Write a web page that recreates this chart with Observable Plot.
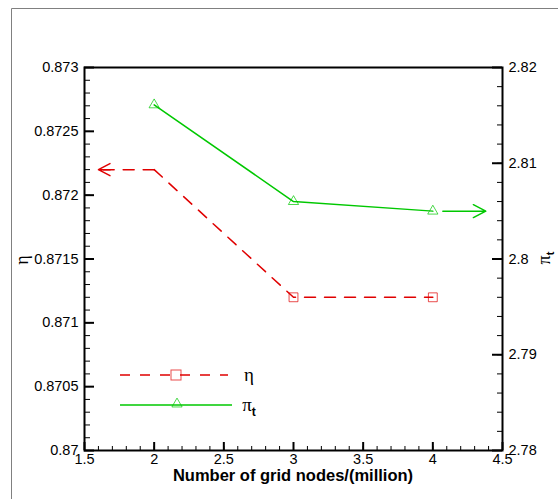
<!DOCTYPE html>
<html><head><meta charset="utf-8">
<script src="https://cdn.jsdelivr.net/npm/d3@7"></script>
<script src="https://cdn.jsdelivr.net/npm/@observablehq/plot@0.6"></script>
<style>
body{margin:0;background:#fff;}
#chart{position:relative;width:558px;height:499px;}
</style>
</head><body><div id="chart"></div>
<script>
// ---- data ----
const nodes = [2, 3, 4];                 // grid nodes (million)
const eta = [0.8722, 0.8712, 0.8712];    // η (left axis)
const piT = [2.8161, 2.8060, 2.8050];    // π_t (right axis)
const etaMarkerNodes = [3, 4];           // nodes where η markers are shown
const etaArrowTo = 1.6;                  // η arrow points to left axis
const piArrowTo = 4.38;                  // π_t arrow points to right axis

const xTicks = [1.5, 2, 2.5, 3, 3.5, 4, 4.5];
const xTickLabels = ["1.5", "2", "2.5", "3", "3.5", "4", "4.5"];
const etaTicks = [0.87, 0.8705, 0.871, 0.8715, 0.872, 0.8725, 0.873];
const etaTickLabels = ["0.87", "0.8705", "0.871", "0.8715", "0.872", "0.8725", "0.873"];
const piTicks = [2.78, 2.79, 2.8, 2.81, 2.82];
const piTickLabels = ["2.78", "2.79", "2.8", "2.81", "2.82"];
const etaDomain = [0.87, 0.873];
const piDomain = [2.78, 2.82];

// ---- derived ----
const W = 558, H = 499, mL = 84, mR = 56, mT = 67, mB = 49;
const iw = W - mL - mR, ih = H - mT - mB;
const red = "#e00000", green = "#00c800";
const piToEta = p => etaDomain[0] + (p - piDomain[0]) / (piDomain[1] - piDomain[0]) * (etaDomain[1] - etaDomain[0]);
const xMinor = d3.range(15, 46).map(i => i / 10);
const etaMinor = d3.range(0, 31).map(i => etaDomain[0] + i * 0.0001);
const piMinorY = d3.range(0, 21).map(i => piToEta(piDomain[0] + i * 0.002));
const piTicksY = piTicks.map(piToEta);

const etaRows = nodes.map((x, i) => ({x, y: eta[i]}));
const piRows = nodes.map((x, i) => ({x, y: piToEta(piT[i])}));
const etaMarkers = etaRows.filter(d => etaMarkerNodes.includes(d.x));
const etaExt = [{x: nodes[0], y: eta[0]}, {x: etaArrowTo, y: eta[0]}];
const etaHead = [{x1: nodes[0], x2: etaArrowTo, y: eta[0]}];
const piHead = [{x1: nodes[2], x2: piArrowTo, y: piToEta(piT[2])}];

const fmt = (ticks, labels) => d => { const i = ticks.indexOf(d); return i >= 0 ? labels[i] : ""; };
const id = d => d;

const plot = Plot.plot({
  width: W, height: H,
  marginLeft: mL, marginRight: mR, marginTop: mT, marginBottom: mB,
  style: {fontFamily: "'Liberation Sans', Arial, sans-serif", fontSize: "14.5px", color: "#000", background: "transparent", overflow: "visible"},
  x: {domain: [1.5, 4.5]},
  y: {domain: etaDomain},
  marks: [
    // inward ticks
    Plot.ruleX(xMinor, {x: id, insetTop: ih - 4, stroke: "#000", strokeWidth: 1}),
    Plot.ruleX(xTicks, {x: id, insetTop: ih - 8, stroke: "#000", strokeWidth: 2}),
    Plot.ruleY(etaMinor, {y: id, insetRight: iw - 6, stroke: "#000", strokeWidth: 1}),
    Plot.ruleY(etaTicks, {y: id, insetRight: iw - 10, stroke: "#000", strokeWidth: 2}),
    Plot.ruleY(piMinorY, {y: id, insetLeft: iw - 5, stroke: "#000", strokeWidth: 1}),
    Plot.ruleY(piTicksY, {y: id, insetLeft: iw - 10, stroke: "#000", strokeWidth: 2}),
    // tick labels
    Plot.axisX(xTicks, {anchor: "bottom", tickSize: 0, tickPadding: 3, tickFormat: fmt(xTicks, xTickLabels), label: null}),
    Plot.axisY(etaTicks, {anchor: "left", tickSize: 0, tickPadding: 6, tickFormat: fmt(etaTicks, etaTickLabels), label: null}),
    Plot.axisY(piTicksY, {anchor: "right", tickSize: 0, tickPadding: 6, tickFormat: fmt(piTicksY, piTickLabels), label: null}),
    Plot.frame({strokeWidth: 2}),
    // η
    Plot.line(etaRows, {x: "x", y: "y", stroke: red, strokeWidth: 1.5, strokeDasharray: "11,9"}),
    Plot.line(etaExt, {x: "x", y: "y", stroke: red, strokeWidth: 1.5, strokeDasharray: "11,9"}),
    Plot.arrow(etaHead, {x1: "x1", x2: "x2", y1: "y", y2: "y", stroke: red, strokeWidth: 1.5, headLength: 13, headAngle: 55, insetStart: 44}),
    Plot.dot(etaMarkers, {x: "x", y: "y", symbol: "square", r: 5, stroke: red, fill: "none", strokeWidth: 1, strokeOpacity: 0.7}),
    // π_t
    Plot.line(piRows, {x: "x", y: "y", stroke: green, strokeWidth: 1.5}),
    Plot.arrow(piHead, {x1: "x1", x2: "x2", y1: "y", y2: "y", stroke: green, strokeWidth: 1.5, headLength: 14, headAngle: 55, insetStart: 10}),
    Plot.dot(piRows, {x: "x", y: "y", symbol: "triangle", r: 3.8, stroke: green, fill: "none", strokeWidth: 1, strokeOpacity: 0.7})
  ]
});
document.getElementById("chart").appendChild(plot);

// ---- decorations: border, titles, legend ----
const svg = d3.select(plot);
svg.append("line").attr("x1", 11.5).attr("x2", W).attr("y1", 8.5).attr("y2", 8.5).attr("stroke", "#808080");
svg.append("line").attr("x1", 11.5).attr("x2", 11.5).attr("y1", 8.5).attr("y2", H).attr("stroke", "#808080");

svg.append("text").attr("x", 293).attr("y", 481).attr("text-anchor", "middle")
  .attr("font-family", "'Liberation Sans', Arial, sans-serif").attr("font-size", 16.5).attr("font-weight", "bold")
  .text("Number of grid nodes/(million)");

svg.append("text").attr("transform", "translate(28,260) rotate(-90)").attr("text-anchor", "middle")
  .attr("font-family", "'Liberation Serif', serif").attr("font-size", 18).text("η");

const rt = svg.append("text").attr("transform", "translate(550,258) rotate(-90)").attr("text-anchor", "middle")
  .attr("font-family", "'Liberation Serif', serif").attr("font-size", 18);
rt.append("tspan").text("π");
rt.append("tspan").attr("dy", 4).attr("font-size", 11).attr("font-weight", "bold").attr("font-family", "'Liberation Sans', Arial, sans-serif").text("t");

// legend
const lg = svg.append("g");
lg.append("line").attr("x1", 120).attr("x2", 228).attr("y1", 375).attr("y2", 375)
  .attr("stroke", red).attr("stroke-width", 1.5).attr("stroke-dasharray", "10,10");
lg.append("rect").attr("x", 171).attr("y", 370).attr("width", 10).attr("height", 10)
  .attr("fill", "none").attr("stroke", red).attr("stroke-opacity", 0.7);
lg.append("text").attr("x", 249).attr("y", 381).attr("font-family", "'Liberation Serif', serif").attr("font-size", 19).text("η");
lg.append("line").attr("x1", 120).attr("x2", 232).attr("y1", 405).attr("y2", 405)
  .attr("stroke", green).attr("stroke-width", 1.5);
lg.append("path").attr("d", d3.symbol(d3.symbolTriangle, Math.PI * 3.8 * 3.8)()).attr("transform", "translate(177,404)")
  .attr("fill", "none").attr("stroke", green).attr("stroke-opacity", 0.7);
const lt = lg.append("text").attr("x", 249).attr("y", 411).attr("font-family", "'Liberation Serif', serif").attr("font-size", 19);
lt.append("tspan").text("π");
lt.append("tspan").attr("dy", 5).attr("font-size", 12).attr("font-weight", "bold").attr("font-family", "'Liberation Sans', Arial, sans-serif").text("t");
</script>
</body></html>
